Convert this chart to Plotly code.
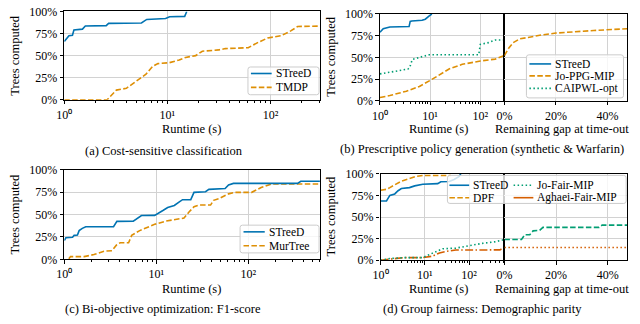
import plotly.graph_objects as go

# ---------------- data ----------------
A_STREED_T = [1.0, 1.04, 1.11, 1.2, 1.24, 1.5, 1.6, 2.55, 2.69, 5.6, 6.3, 9.6, 10.5, 14.7, 15.4]
A_STREED_Y = [66, 68, 72.5, 73, 79, 80, 83.5, 84, 86.5, 87, 91, 92, 94, 94.5, 100]
A_TMDP_T = [1.0, 2.6, 3.2, 4.0, 5.4, 6.2, 7.2, 8.1, 10.4, 13, 15, 18.8, 21.8, 31.4, 36.4, 60.8, 75.7, 94, 126, 157, 183, 300]
A_TMDP_Y = [0, 0, 11, 13, 24, 29, 38, 41, 42, 45, 48, 50, 55, 56.5, 58, 59, 65, 70, 72.5, 78, 83, 83.5]

B_STREED_T = [1.0, 1.16, 1.57, 3.8, 4.0, 4.3, 6.9, 8.0, 9.6, 10.8]
B_STREED_Y = [79, 83, 85, 85.5, 91.5, 92, 92.7, 94, 97.8, 100]
B_CAIPWL_T = [1.0, 1.57, 3.6, 3.9, 4.4, 6.1, 9.6, 93, 100, 145, 198, 300]
B_CAIPWL_Y = [31, 33, 36.5, 38, 47.5, 50, 53, 53, 65, 67, 70, 70]
B_JO_T = [1.0, 1.57, 3.35, 6.1, 10.4, 15.1, 23.8, 43.6, 100, 197, 300]
B_JO_Y = [3.7, 6, 11, 16.5, 24, 30, 36.6, 42, 45.8, 48, 52]
B_JO_GAP = [0, 1.5, 3.4, 6, 9.2, 14.3, 20, 27, 34.6, 47.6]
B_JO_GAP_Y = [52, 60, 67, 71.4, 73, 75.8, 78, 79.5, 81, 83]

C_STREED_T = [1.0, 1.04, 1.23, 1.28, 1.39, 1.45, 1.57, 1.71, 3.43, 3.73, 5.62, 6.36, 6.9, 9.6, 10.9, 11.8, 13.3, 15.7, 17.8, 19.3, 23.7, 25.7, 34.3, 37.3, 56, 61, 69, 343, 372, 600]
C_STREED_Y = [21, 24, 24.5, 26.7, 27, 32, 34.5, 36.3, 36.3, 42.3, 42.5, 46, 48.8, 49, 52, 54.4, 57.7, 60, 64, 66.5, 66.5, 74.7, 75.4, 78, 79, 83, 84.7, 84.7, 87, 87]
C_MURTREE_T = [1.12, 1.17, 1.64, 2.1, 2.7, 3.3, 3.7, 4.05, 5.0, 5.4, 6.6, 8.1, 9.6, 12.8, 17, 20, 22.8, 25.7, 29, 38.9, 42, 47.7, 61, 72, 109, 138, 178, 600]
C_MURTREE_Y = [0.5, 3, 3, 5.3, 9, 9.6, 16, 18.5, 18.5, 26.7, 32, 35.6, 39, 42.7, 45, 46, 53, 58.7, 60.5, 60.5, 65.8, 67.6, 73, 74.7, 74.7, 80, 84, 84]

D_STREED_T = [1.0, 1.36, 1.62, 2.09, 2.49, 2.95, 4.5, 5.9, 9.0, 19.6, 23, 35.7, 46, 60, 65]
D_STREED_Y = [68.6, 68.6, 75, 76.7, 80.4, 83, 84, 86, 87.8, 88.6, 90.8, 91, 93.4, 97, 100]
D_DPF_T = [1.0, 1.36, 1.62, 2.09, 2.95, 4.5, 6.4, 9.0, 38.8]
D_DPF_Y = [81, 82, 84, 87, 91.5, 94.5, 97, 98, 98]
D_JO_T = [1.0, 1.62, 3.2, 9.0, 12.7, 17.9, 25.3, 50, 99, 197, 392, 631]
D_JO_Y = [0, 2, 3, 3, 6.6, 9.6, 13.3, 14, 17, 19.5, 21.4, 24]
D_JO_GAP = [0, 6.6, 7.9, 9.8, 11.1, 13.6, 14.9, 36.6, 37.8, 47.6]
D_JO_GAP_Y = [24, 24, 29.5, 29.5, 34, 34.5, 38, 38, 40.6, 40.6]
D_AGH_T = [1.0, 1.62, 3.2, 9.0, 15.1, 21.4, 30, 50, 280, 500, 631]
D_AGH_Y = [0, 1, 3, 3, 4.8, 8.5, 10.3, 11.8, 11.8, 12, 14.8]
D_AGH_GAP = [0, 47.6]
D_AGH_GAP_Y = [14.8, 14.8]

Y_TICKS = [0, 25, 50, 75, 100]
Y_TICKTEXT = ["0%", "25%", "50%", "75%", "100%"]
LOG_TICKS = [1, 10, 100]
LOG_TICKTEXT = ["10\u2070", "10\u00b9", "10\u00b2"]
GAP_TICKS = [0, 20, 40]
GAP_TICKTEXT = ["0%", "20%", "40%"]

# ---------------- style ----------------
W, H = 640, 324
FONT = "Liberation Serif"
BLUE, ORANGE, GREEN, RED = "#0173B2", "#DE8F05", "#029E73", "#D55E00"
DASH = "5.5px,2.4px"
DOT = "1.5px,2.5px"
DASHDOT = "8px,2.4px,1.5px,2.4px"
LW = 1.6
TICK_SIZE = 12
TITLE_SIZE = 12.5


def X(px):
    return px / W


def Y(py):
    return 1 - py / H


fig = go.Figure()


def add(xs, ys, ax, color, dash):
    fig.add_trace(go.Scatter(x=xs, y=ys, xaxis="x" + ax, yaxis="y" + ax, mode="lines",
                             line=dict(color=color, width=LW, dash=dash), showlegend=False,
                             hoverinfo="skip"))


add(A_TMDP_T, A_TMDP_Y, "", ORANGE, DASH)
add(A_STREED_T, A_STREED_Y, "", BLUE, "solid")
add(B_JO_T, B_JO_Y, "2", ORANGE, DASH)
add(B_CAIPWL_T, B_CAIPWL_Y, "2", GREEN, DOT)
add(B_STREED_T, B_STREED_Y, "2", BLUE, "solid")
add(B_JO_GAP, B_JO_GAP_Y, "3", ORANGE, DASH)
add(C_MURTREE_T, C_MURTREE_Y, "4", ORANGE, DASH)
add(C_STREED_T, C_STREED_Y, "4", BLUE, "solid")
add(D_DPF_T, D_DPF_Y, "5", ORANGE, DASH)
add(D_STREED_T, D_STREED_Y, "5", BLUE, "solid")
add(D_AGH_T, D_AGH_Y, "5", RED, DASHDOT)
add(D_JO_T, D_JO_Y, "5", GREEN, DOT)
add(D_AGH_GAP, D_AGH_GAP_Y, "6", RED, DOT)
add(D_JO_GAP, D_JO_GAP_Y, "6", GREEN, DASH)

base = dict(showline=True, linecolor="black", linewidth=1.3, mirror=True,
            ticks="outside", ticklen=3.5, tickwidth=1, tickcolor="black",
            showgrid=True, gridcolor="#d2d2d2", gridwidth=1, zeroline=False,
            tickfont=dict(family=FONT, size=TICK_SIZE, color="black"))

minor_vals = [m * 10 ** e for e in range(0, 3) for m in range(2, 10)]


def logx(dom, rng, anchor):
    d = dict(base)
    d.update(type="log", domain=dom, range=rng, anchor=anchor,
             tickvals=LOG_TICKS, ticktext=LOG_TICKTEXT,
             minor=dict(ticks="outside", ticklen=2, tickwidth=0.8, tickcolor="black",
                        tickvals=minor_vals, showgrid=False))
    return d


def gapx(dom, anchor):
    d = dict(base)
    d.update(domain=dom, range=[0, 47.6], anchor=anchor, tickvals=GAP_TICKS, ticktext=GAP_TICKTEXT)
    return d


def ly(dom, anchor):
    d = dict(base)
    d.update(domain=dom, range=[0, 100], anchor=anchor, tickvals=Y_TICKS, ticktext=Y_TICKTEXT)
    return d


def ry(dom, anchor):
    d = dict(base)
    d.update(domain=dom, range=[0, 100], anchor=anchor, tickvals=Y_TICKS,
             showticklabels=False, ticks="")
    return d


# pixel geometry
A_X = [X(57), X(316)]; A_Y = [Y(97), Y(4.7)]
B_XL = [X(376.7), X(502.7)]; B_XR = [X(502.7), X(627)]; B_Y = [Y(98), Y(7.3)]
C_X = [X(57), X(316)]; C_Y = [Y(263.7), Y(170)]
D_XL = [X(377.3), X(502.7)]; D_XR = [X(502.7), X(627.3)]; D_Y = [Y(264.7), Y(174.3)]

fig.update_layout(
    width=W, height=H, margin=dict(l=0, r=0, t=0, b=0),
    paper_bgcolor="white", plot_bgcolor="white", showlegend=False,
    font=dict(family=FONT, color="black", size=TICK_SIZE),
    xaxis=logx(A_X, [0, 2.48], "y"), yaxis=ly(A_Y, "x"),
    xaxis2=logx(B_XL, [0, 2.48], "y2"), yaxis2=ly(B_Y, "x2"),
    xaxis3=gapx(B_XR, "y3"), yaxis3=ry(B_Y, "x3"),
    xaxis4=logx(C_X, [0, 2.78], "y4"), yaxis4=ly(C_Y, "x4"),
    xaxis5=logx(D_XL, [0, 2.8], "y5"), yaxis5=ly(D_Y, "x5"),
    xaxis6=gapx(D_XR, "y6"), yaxis6=ry(D_Y, "x6"),
)

ann = []


def text(px, py, s, size, angle=0, xanchor="center"):
    ann.append(dict(x=X(px), y=Y(py), xref="paper", yref="paper", text=s, showarrow=False,
                    xanchor=xanchor, yanchor="middle", textangle=angle,
                    font=dict(family=FONT, size=size, color="black")))


# axis titles
text(7, 51, "Trees computed", TITLE_SIZE, -90)
text(327, 52, "Trees computed", TITLE_SIZE, -90)
text(7, 217, "Trees computed", TITLE_SIZE, -90)
text(327, 219, "Trees computed", TITLE_SIZE, -90)
text(186, 128, "Runtime (s)", TITLE_SIZE)
text(436, 127, "Runtime (s)", TITLE_SIZE)
text(561, 127, "Remaining gap at time-out", TITLE_SIZE)
text(186, 295, "Runtime (s)", TITLE_SIZE)
text(436, 295, "Runtime (s)", TITLE_SIZE)
text(561, 295, "Remaining gap at time-out", TITLE_SIZE)
# captions
text(158, 151, "(a) Cost-sensitive classification", TITLE_SIZE)
text(480, 148, "(b) Prescriptive policy generation (synthetic &amp; Warfarin)", TITLE_SIZE)
text(157, 316, "(c) Bi-objective optimization: F1-score", TITLE_SIZE)
text(480, 316, "(d) Group fairness: Demographic parity", TITLE_SIZE)

shapes = []


def legbox(x0, y0, x1, y1, r=2.5):
    def P(px, py):
        return f"{X(px):.5f},{Y(py):.5f}"
    path = (f"M {P(x0 + r, y0)} L {P(x1 - r, y0)} Q {P(x1, y0)} {P(x1, y0 + r)} "
            f"L {P(x1, y1 - r)} Q {P(x1, y1)} {P(x1 - r, y1)} L {P(x0 + r, y1)} "
            f"Q {P(x0, y1)} {P(x0, y1 - r)} L {P(x0, y0 + r)} Q {P(x0, y0)} {P(x0 + r, y0)} Z")
    shapes.append(dict(type="path", path=path, xref="paper", yref="paper", layer="above",
                       fillcolor="rgba(255,255,255,0.8)", line=dict(color="#cccccc", width=1)))


def legitem(xl, xr, py, color, dash, label):
    shapes.append(dict(type="line", xref="paper", yref="paper", layer="above",
                       x0=X(xl), x1=X(xr), y0=Y(py), y1=Y(py),
                       line=dict(color=color, width=LW, dash=dash)))
    text(xr + 2, py, label, 11.5, xanchor="left")


legbox(243, 62.7, 315, 91.7)
legitem(246, 267, 69.5, BLUE, "solid", "STreeD")
legitem(246, 267, 84, ORANGE, DASH, "TMDP")

legbox(525, 50, 623.3, 95)
legitem(528, 550, 59.5, BLUE, "solid", "STreeD")
legitem(528, 550, 72, ORANGE, DASH, "Jo-PPG-MIP")
legitem(528, 550, 85, GREEN, DOT, "CAIPWL-opt")

legbox(235, 228, 315, 257)
legitem(238.5, 260, 235, BLUE, "solid", "STreeD")
legitem(238.5, 260, 249.5, ORANGE, DASH, "MurTree")

legbox(445, 176, 626, 205.3)
legitem(447, 467, 186.3, BLUE, "solid", "STreeD")
legitem(447, 467, 199.3, ORANGE, DASH, "DPF")
legitem(512, 532, 186.3, GREEN, DOT, "Jo-Fair-MIP")
legitem(512, 532, 199.3, RED, "solid", "Aghaei-Fair-MIP")

fig.update_layout(annotations=ann, shapes=shapes)
fig.write_html("out.html", config={"displayModeBar": False},
               post_script="document.body.style.margin='0';document.body.style.padding='0';")
